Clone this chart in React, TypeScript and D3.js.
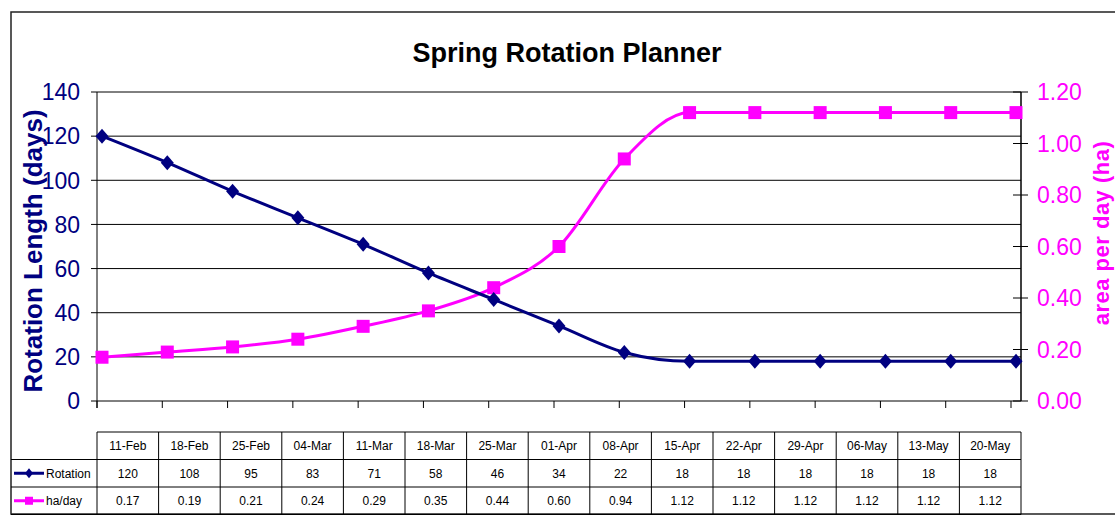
import React from 'react';
import * as d3 from 'd3';

// chart data
const dates = ['11-Feb', '18-Feb', '25-Feb', '04-Mar', '11-Mar', '18-Mar', '25-Mar', '01-Apr', '08-Apr', '15-Apr', '22-Apr', '29-Apr', '06-May', '13-May', '20-May'];
const rotation = [120, 108, 95, 83, 71, 58, 46, 34, 22, 18, 18, 18, 18, 18, 18];
const haPerDay = [0.17, 0.19, 0.21, 0.24, 0.29, 0.35, 0.44, 0.6, 0.94, 1.12, 1.12, 1.12, 1.12, 1.12, 1.12];
const leftTicks = [0, 20, 40, 60, 80, 100, 120, 140];
const rightTicks = [0, 0.2, 0.4, 0.6, 0.8, 1.0, 1.2];

const NAVY = '#000080';
const PINK = '#ff00ff';
const FONT = '"Liberation Sans", Arial, sans-serif';

const App = () => {
  const width = 1115;
  const height = 515;

  const left = 97;
  const right = 1021;
  const top = 92;
  const bottom = 401;

  // points sit slightly inside the category ticks (as in the Excel render)
  const xScale = d3.scalePoint<string>().domain(dates).range([102, 1016]);
  const colScale = d3.scaleBand<string>().domain(dates).range([left, right]);
  const yLeft = d3.scaleLinear().domain([0, 140]).range([bottom, top]);
  const yRight = d3.scaleLinear().domain([0, 1.2]).range([bottom, top]);

  const rotLine = d3
    .line<number>()
    .x((_, i) => xScale(dates[i]) as number)
    .y((d) => yLeft(d))
    .curve(d3.curveMonotoneX);

  const haLine = d3
    .line<number>()
    .x((_, i) => xScale(dates[i]) as number)
    .y((d) => yRight(d))
    .curve(d3.curveMonotoneX);

  const diamond = 'M0,-7.5L6.5,0L0,7.5L-6.5,0Z';

  // table rows
  const tHead = 432;
  const rowH = 27.5;

  return (
    <svg
      width={width}
      height={height}
      style={{ position: 'absolute', left: 0, top: 0, background: '#fff' }}
      fontFamily={FONT}
    >
      {/* chart border */}
      <rect x={11} y={12} width={1130} height={502} fill='none' stroke='#222' strokeWidth={1.5} />

      <text x={567} y={62} textAnchor='middle' fontSize={27} fontWeight='bold' fill='#000'>
        Spring Rotation Planner
      </text>

      {/* gridlines */}
      {leftTicks.map((t) => (
        <line key={'g' + t} x1={left - 6} x2={right} y1={yLeft(t)} y2={yLeft(t)} stroke='#000' strokeWidth={1} />
      ))}

      {/* left axis */}
      <line x1={left} x2={left} y1={top} y2={bottom + 7} stroke='#000' />
      {leftTicks.map((t) => (
        <text key={'l' + t} x={80} y={yLeft(t)} dy='0.36em' textAnchor='end' fontSize={23} fill={NAVY}>
          {t}
        </text>
      ))}
      <text
        transform={`translate(42, 251) rotate(-90)`}
        textAnchor='middle'
        fontSize={26}
        fontWeight='bold'
        fill={NAVY}
      >
        Rotation Length (days)
      </text>

      {/* right axis */}
      <line x1={right} x2={right} y1={top} y2={bottom} stroke='#000' strokeWidth={1.5} />
      {rightTicks.map((t) => (
        <g key={'r' + t}>
          <line x1={right - 8} x2={right + 7} y1={yRight(t)} y2={yRight(t)} stroke='#000' />
          <text x={1037} y={yRight(t)} dy='0.36em' fontSize={23} fill={PINK}>
            {t.toFixed(2)}
          </text>
        </g>
      ))}
      <text
        transform={`translate(1109, 233) rotate(-90)`}
        textAnchor='middle'
        fontSize={22}
        fontWeight='bold'
        fill={PINK}
        letterSpacing={0.5}
      >
        area per day (ha)
      </text>

      {/* category ticks */}
      {dates.map((d) => (
        <line
          key={'t' + d}
          x1={(xScale(d) as number) - 5}
          x2={(xScale(d) as number) - 5}
          y1={bottom}
          y2={bottom + 7}
          stroke='#000'
        />
      ))}

      {/* series */}
      <path d={haLine(haPerDay) || ''} fill='none' stroke={PINK} strokeWidth={3} />
      {haPerDay.map((v, i) => (
        <rect key={'s' + i} x={(xScale(dates[i]) as number) - 6.5} y={yRight(v) - 6.5} width={13} height={13} fill={PINK} />
      ))}
      <path d={rotLine(rotation) || ''} fill='none' stroke={NAVY} strokeWidth={3} />
      {rotation.map((v, i) => (
        <path key={'d' + i} d={diamond} transform={`translate(${xScale(dates[i])}, ${yLeft(v)})`} fill={NAVY} />
      ))}

      {/* data table */}
      <g fontSize={12} fill='#000'>
        <line x1={left} x2={right} y1={tHead} y2={tHead} stroke='#000' />
        <line x1={11} x2={right} y1={tHead + rowH} y2={tHead + rowH} stroke='#000' />
        <line x1={11} x2={right} y1={tHead + rowH * 2} y2={tHead + rowH * 2} stroke='#000' />
        <line x1={11} x2={right} y1={tHead + rowH * 3} y2={tHead + rowH * 3} stroke='#000' />
        <line x1={left} x2={left} y1={tHead} y2={tHead + rowH * 3} stroke='#000' />
        {dates.map((d) => (
          <line
            key={'c' + d}
            x1={(colScale(d) as number) + colScale.bandwidth()}
            x2={(colScale(d) as number) + colScale.bandwidth()}
            y1={tHead}
            y2={tHead + rowH * 3}
            stroke='#000'
          />
        ))}
        {dates.map((d, i) => {
          const cx = (colScale(d) as number) + colScale.bandwidth() / 2;
          return (
            <g key={'v' + d}>
              <text x={cx} y={tHead + rowH / 2} dy='0.36em' textAnchor='middle'>
                {d}
              </text>
              <text x={cx} y={tHead + rowH * 1.5} dy='0.36em' textAnchor='middle'>
                {rotation[i]}
              </text>
              <text x={cx} y={tHead + rowH * 2.5} dy='0.36em' textAnchor='middle'>
                {haPerDay[i].toFixed(2)}
              </text>
            </g>
          );
        })}

        {/* legend keys */}
        <line x1={14} x2={44} y1={tHead + rowH * 1.5} y2={tHead + rowH * 1.5} stroke={NAVY} strokeWidth={3} />
        <path d='M0,-5L4,0L0,5L-4,0Z' transform={`translate(29, ${tHead + rowH * 1.5})`} fill={NAVY} />
        <text x={46} y={tHead + rowH * 1.5} dy='0.36em'>
          Rotation
        </text>
        <line x1={14} x2={44} y1={tHead + rowH * 2.5} y2={tHead + rowH * 2.5} stroke={PINK} strokeWidth={3} />
        <rect x={25} y={tHead + rowH * 2.5 - 4} width={8} height={8} fill={PINK} />
        <text x={46} y={tHead + rowH * 2.5} dy='0.36em'>
          ha/day
        </text>
      </g>
    </svg>
  );
};

export default App;
